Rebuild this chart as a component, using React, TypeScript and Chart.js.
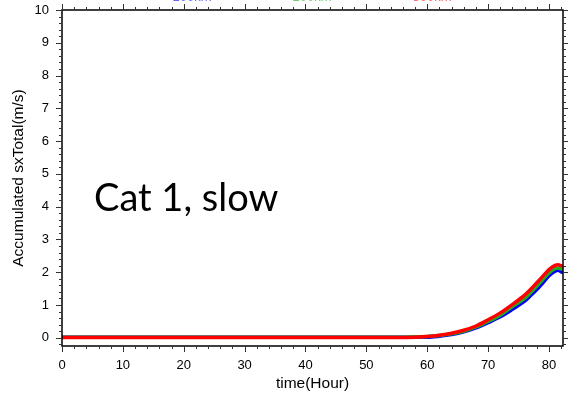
import React, { useEffect, useRef } from "react";
import { Chart, registerables } from "chart.js";

Chart.register(...registerables);

const hours = [0, 10, 20, 30, 40, 50, 55, 58, 60, 62, 64, 66, 68, 70, 72, 74, 76, 77, 78, 79, 80, 81, 81.5, 82, 82.3];
const blueVals = [0.02, 0.02, 0.02, 0.02, 0.02, 0.02, 0.02, 0.02, 0.02, 0.05, 0.1, 0.18, 0.3, 0.46, 0.64, 0.87, 1.12, 1.29, 1.47, 1.68, 1.89, 2.03, 2.06, 2.01, 1.99];
const greenVals = [0.02, 0.02, 0.02, 0.02, 0.02, 0.02, 0.02, 0.03, 0.04, 0.07, 0.12, 0.2, 0.33, 0.5, 0.69, 0.95, 1.2, 1.38, 1.58, 1.78, 1.98, 2.11, 2.13, 2.1, 2.08];
const redVals = [0.01, 0.01, 0.01, 0.01, 0.01, 0.01, 0.01, 0.02, 0.04, 0.08, 0.14, 0.23, 0.36, 0.55, 0.76, 1.02, 1.3, 1.48, 1.68, 1.88, 2.08, 2.21, 2.23, 2.2, 2.18];
const seriesNames = ["100km", "200km", "300km"];
const seriesColors = ["#0000ff", "#22aa22", "#ff0000"];
const legendX = [192, 312, 432];

const xMin = 0, xMax = 82.3, yMin = -0.25, yMax = 10;

const frame = {
  id: "frame",
  afterDraw(chart: any) {
    const ctx = chart.ctx;
    const a = chart.chartArea;
    const xs = chart.scales.x, ys = chart.scales.y;
    ctx.save();
    ctx.strokeStyle = "#000";
    ctx.lineWidth = 1.5;
    ctx.strokeRect(a.left, a.top, a.right - a.left, a.bottom - a.top);
    ctx.lineWidth = 1;
    ctx.strokeStyle = "#333";
    ctx.beginPath();
    for (let v = 0; v <= xMax + 1e-6; v += 2) {
      const px = Math.round(xs.getPixelForValue(v)) + 0.5;
      const len = Math.abs(v % 10) < 1e-6 ? 6 : 3;
      ctx.moveTo(px, a.bottom); ctx.lineTo(px, a.bottom + len);
      ctx.moveTo(px, a.top); ctx.lineTo(px, a.top - len);
    }
    for (let i = -1; i <= 50; i++) {
      const v = i * 0.2;
      if (v < yMin || v > yMax + 1e-6) continue;
      const py = Math.round(ys.getPixelForValue(v)) + 0.5;
      const len = i % 5 === 0 ? 6 : 3;
      ctx.moveTo(a.left, py); ctx.lineTo(a.left - len, py);
      ctx.moveTo(a.right, py); ctx.lineTo(a.right + len, py);
    }
    ctx.stroke();
    ctx.font = "13px 'Liberation Sans', Arial, sans-serif";
    ctx.textAlign = "center";
    ctx.textBaseline = "alphabetic";
    ctx.globalAlpha = 0.6;
    seriesNames.forEach((n, i) => {
      ctx.fillStyle = seriesColors[i];
      ctx.fillText(n, legendX[i], 0.5);
    });
    ctx.restore();
  },
};

export default function App() {
  const ref = useRef<HTMLCanvasElement>(null);
  useEffect(() => {
    const mk = (vals: number[]) => hours.map((h, i) => ({ x: h, y: vals[i] }));
    const font = { family: "'Liberation Sans', Arial, sans-serif", size: 13 };
    const chart = new Chart(ref.current!, {
      type: "line",
      data: {
        datasets: [
          { label: seriesNames[0], data: mk(blueVals), borderColor: seriesColors[0], backgroundColor: seriesColors[0], borderWidth: 3.5, pointRadius: 0, cubicInterpolationMode: "monotone", order: 3 },
          { label: seriesNames[1], data: mk(greenVals), borderColor: seriesColors[1], backgroundColor: seriesColors[1], borderWidth: 3.5, pointRadius: 0, cubicInterpolationMode: "monotone", order: 2 },
          { label: seriesNames[2], data: mk(redVals), borderColor: seriesColors[2], backgroundColor: seriesColors[2], borderWidth: 3.5, pointRadius: 0, cubicInterpolationMode: "monotone", order: 1 },
        ],
      },
      options: {
        animation: false,
        responsive: false,
        layout: { padding: { left: 0, right: 5, top: 10, bottom: 0 } },
        plugins: { legend: { display: false }, tooltip: { enabled: false } },
        scales: {
          x: {
            type: "linear",
            min: xMin,
            max: xMax,
            grid: { display: false, drawTicks: false },
            border: { display: false },
            ticks: { stepSize: 10, includeBounds: false, autoSkip: false, maxRotation: 0, padding: 12, color: "#000", font },
            title: { display: true, text: "time(Hour)", color: "#000", font: { family: font.family, size: 15.5 }, padding: { top: 0, bottom: 0 } },
            afterFit: (s: any) => { s.height = 47; s.paddingLeft = 0; s.paddingRight = 0; },
          },
          y: {
            type: "linear",
            min: yMin,
            max: yMax,
            grid: { display: false, drawTicks: false },
            border: { display: false },
            ticks: { stepSize: 1, includeBounds: false, autoSkip: false, padding: 13, color: "#000", font },
            title: { display: true, text: "Accumulated sxTotal(m/s)", color: "#000", font: { family: font.family, size: 15.5 }, padding: { top: 9, bottom: 0 } },
            afterFit: (s: any) => { s.width = 62; s.paddingTop = 0; s.paddingBottom = 0; },
          },
        },
      },
      plugins: [frame],
    } as any);
    return () => chart.destroy();
  }, []);
  return (
    <div style={{ position: "fixed", left: 0, top: 0, width: 568, height: 393, background: "#fff" }}>
      <canvas ref={ref} width={568} height={393} />
      <div style={{ position: "absolute", left: 94, top: 172, fontFamily: "Lato, sans-serif", fontSize: 38, color: "#000", whiteSpace: "nowrap", lineHeight: "48px" }}>
        Cat 1, slow
      </div>
    </div>
  );
}
